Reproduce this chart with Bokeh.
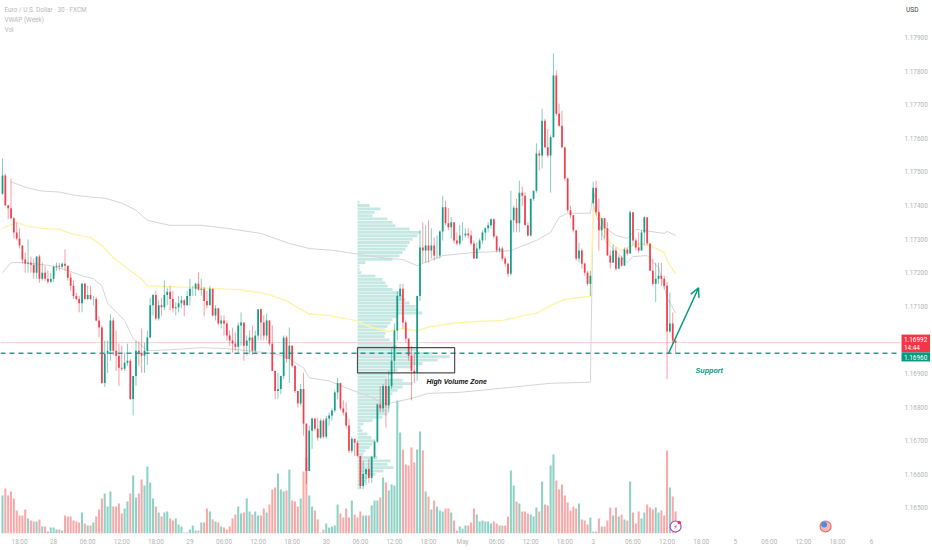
from bokeh.plotting import figure
from bokeh.embed import file_html
from bokeh.resources import INLINE
from bokeh.models import Range1d, FixedTicker, Label, Arrow, OpenHead, BoxAnnotation, ColumnDataSource
from bokeh.core.properties import value

# candles, in points (1e-5)
highs = [117540,117495,117401,117480,117365,117350,117332,117281,117260,117299,
117248,117242,117248,117254,117230,117221,117206,117200,117221,117230,
117230,117230,117269,117221,117200,117176,117140,117131,117170,117170,
117161,117161,117131,117128,117070,117043,116998,116998,117076,117067,
117028,116989,116983,116962,116989,116944,116893,116998,116995,117034,
116992,117028,117125,117137,117146,117118,117125,117176,117155,117161,
117146,117112,117131,117131,117122,117146,117182,117161,117170,117200,
117182,117158,117146,117161,117131,117103,117094,117073,117073,117058,
117028,117037,117022,117052,117082,117052,117013,117028,117043,117028,
117091,117094,117073,117079,117043,117043,116908,116902,116893,117013,
117013,117037,116983,116923,116848,116869,116902,116751,116745,116769,
116766,116769,116766,116766,116775,116784,116796,116850,116887,116872,
116820,116814,116766,116712,116700,116700,116655,116640,116610,116646,
116655,116700,116811,116863,116869,116884,116908,116974,117049,117146,
117167,117167,117058,117004,116983,116959,117131,117326,117350,117341,
117356,117332,117305,117311,117326,117429,117414,117392,117365,117350,
117320,117341,117350,117332,117332,117326,117296,117290,117302,117326,
117335,117350,117362,117362,117311,117278,117278,117248,117230,117444,
117399,117420,117474,117456,117438,117350,117420,117444,117585,117564,
117688,117658,117628,117609,117853,117802,117703,117682,117570,117483,
117399,117371,117326,117290,117272,117230,117206,117206,117471,117474,
117420,117362,117341,117350,117266,117284,117275,117251,117251,117275,
117275,117386,117380,117302,117320,117326,117368,117362,117287,117242,
117230,117230,117230,117191,117173,117140,117082,116998]
lows = [117432,117398,117359,117359,117302,117296,117272,117227,117200,117200,
117200,117182,117182,117170,117176,117176,117167,117170,117173,117206,
117206,117212,117206,117176,117146,117122,117118,117082,117082,117118,
117118,117118,117103,117055,117007,116869,116860,116902,116938,116953,
116908,116863,116908,116908,116923,116821,116775,116863,116923,116902,
116902,116926,117007,117073,117058,117058,117073,117088,117103,117088,
117082,117073,117082,117094,117070,117103,117103,117131,117131,117146,
117131,117070,117094,117103,117070,117058,117043,117034,117013,116998,
116983,116962,116968,116962,116983,116938,116953,116959,116956,116959,
116998,116998,116998,116998,116983,116908,116824,116824,116839,116884,
116932,116872,116917,116842,116799,116805,116715,116571,116610,116676,
116730,116700,116706,116706,116706,116745,116760,116784,116824,116790,
116775,116736,116664,116664,116655,116652,116559,116556,116568,116574,
116574,116646,116694,116784,116784,116739,116784,116854,116902,116998,
117116,117034,116992,116938,116820,116872,116878,117116,117230,117230,
117230,117242,117236,117242,117242,117296,117341,117326,117302,117287,
117281,117281,117296,117305,117302,117281,117242,117251,117266,117287,
117296,117320,117332,117302,117260,117260,117236,117218,117188,117191,
117320,117320,117320,117399,117341,117308,117308,117414,117438,117504,
117510,117570,117543,117438,117603,117667,117634,117570,117474,117380,
117362,117320,117236,117230,117212,117191,117161,117131,117401,117371,
117266,117296,117302,117251,117212,117230,117206,117212,117218,117221,
117251,117257,117281,117266,117260,117266,117281,117281,117206,117161,
117112,117167,117161,117152,116884,117022,116989,116959]
closes = [117489,117401,117392,117362,117320,117302,117281,117239,117227,117230,
117224,117200,117248,117182,117200,117182,117173,117182,117218,117221,
117218,117227,117221,117185,117161,117131,117122,117109,117167,117122,
117134,117122,117122,117058,117037,116872,116959,116968,117058,116968,
116953,116917,116914,116932,116938,116824,116893,116968,116962,116953,
116968,117007,117103,117134,117064,117103,117097,117134,117143,117122,
117094,117097,117109,117118,117103,117131,117152,117152,117167,117149,
117152,117116,117103,117152,117073,117094,117049,117058,117049,117013,
116998,116989,116980,117043,117052,116983,116998,117007,116968,117013,
117091,117052,117013,117058,116989,116908,116848,116854,116893,117007,
116944,116983,116923,116848,116811,116854,116751,116610,116730,116766,
116736,116709,116760,116712,116766,116775,116790,116844,116872,116796,
116784,116745,116670,116706,116694,116655,116565,116601,116616,116589,
116652,116697,116808,116796,116863,116805,116863,116938,117028,117131,
117152,117052,117004,116953,116908,116902,117131,117275,117266,117281,
117266,117281,117251,117251,117323,117395,117347,117335,117350,117296,
117287,117311,117311,117317,117311,117287,117242,117272,117296,117320,
117332,117341,117359,117308,117266,117272,117242,117227,117197,117356,
117393,117347,117438,117429,117341,117311,117420,117444,117555,117549,
117652,117573,117549,117603,117787,117673,117637,117573,117480,117386,
117371,117326,117242,117266,117227,117200,117167,117191,117453,117380,
117326,117362,117332,117251,117230,117266,117212,117245,117221,117269,
117257,117380,117296,117275,117266,117320,117365,117287,117206,117167,
117182,117191,117182,117161,117025,117049,116998,116992]
first_open = 117435
gap_opens = {208: 117407}
volumes = [38,45,38,42,35,23,18,18,24,15,13,12,12,14,7,7,2,6,6,4,
4,3,18,17,17,13,12,11,21,10,8,8,11,17,24,35,40,27,42,27,
27,30,20,25,32,40,58,36,40,54,48,67,51,35,27,21,17,21,22,15,
13,15,9,7,1,1,4,8,3,3,11,11,25,22,14,12,11,7,6,4,
7,15,19,27,20,21,35,22,19,22,18,18,25,21,29,44,46,60,44,42,
43,64,33,32,27,35,62,76,38,27,23,14,1,4,10,6,7,8,29,20,
16,25,16,33,19,16,22,18,18,18,28,33,33,36,56,51,43,49,48,133,
101,84,69,68,86,71,84,102,83,42,37,24,33,27,23,22,25,25,21,13,
3,7,5,8,8,11,25,19,12,13,12,12,10,12,10,8,8,8,17,63,
48,32,30,22,22,20,19,17,26,22,52,29,28,68,79,53,44,49,38,31,
23,27,25,30,14,13,9,16,2,2,15,7,7,13,26,18,26,17,19,14,
13,52,21,10,22,15,21,29,26,24,26,21,23,18,83,46,37,22]

# VWAP bands
upper_bars = [3,9,14,20,25,31,36,42,47,51,54,59,70,79,91,101,108,117,126,136,141,146,155,166,174,179,188,193,196,199,207,208,210,212,216,220,223,228,233,234,237]
upper_vals = [117470,117452,117443,117440,117431,117425,117422,117407,117386,117356,117350,117341,117341,117332,117317,117287,117272,117266,117254,117242,117239,117221,117251,117260,117263,117266,117296,117320,117365,117377,117377,117444,117380,117335,117311,117302,117329,117323,117317,117323,117311]
vwap_bars = [0,5,9,14,20,25,31,35,39,45,49,51,70,84,93,100,108,115,124,130,136,140,146,151,158,167,176,184,188,193,198,207,208,210,212,214,218,220,224,228,233,234,237]
vwap_vals = [117332,117350,117338,117332,117329,117314,117305,117281,117245,117206,117182,117161,117155,117149,117137,117116,117077,117073,117058,117037,117025,117034,117028,117040,117049,117055,117058,117073,117079,117103,117121,117130,117385,117380,117326,117287,117266,117275,117287,117281,117260,117236,117197]
lower_bars = [0,3,8,17,23,28,32,35,37,43,46,51,60,70,79,86,93,99,102,106,108,115,122,130,134,136,144,150,161,179,193,207,208,212,220,222,227,231,234,237]
lower_vals = [117200,117230,117230,117221,117206,117191,117182,117161,117109,117058,117004,116968,116971,116977,116974,116968,116962,116953,116938,116917,116887,116878,116854,116829,116811,116811,116826,116841,116844,116859,116871,116874,117401,117296,117230,117248,117251,117215,117125,117080]

# session volume profile: one row per 0.0001, from 1.17410 downwards
profile_top = 117410
profile_step = 10
profile_start_bar = 125
profile_vols = [2,12,23,17,15,30,35,38,52,63,60,55,52,50,48,45,42,35,8,2,2,4,18,25,28,30,35,42,45,48,52,58,60,65,40,35,33,30,27,28,27,32,35,40,60,75,92,80,65,55,40,35,30,45,55,45,40,35,33,33,32,32,30,30,25,15,6,3,5,10,14,18,15,12,8,6,20,33,30,36,26,18,10,8,5,4]

tick_bars = [6,18,30,42,54,66,78,90,102,114,126,138,150,162,174,186,198,208,222,234,246,258,270,282,294,306]
tick_labels = ["18:00","28","06:00","12:00","18:00","29","06:00","12:00","18:00","30","06:00","12:00","18:00","May","06:00","12:00","18:00","3","06:00","12:00","18:00","5","06:00","12:00","18:00","6"]
price_ticks = [1.165,1.166,1.167,1.168,1.169,1.171,1.172,1.173,1.174,1.175,1.176,1.177,1.178,1.179]

last_price = 1.16992
support = 1.16960
UP, DOWN = "#089981", "#f23645"
VOL_UP, VOL_DOWN = "#8ed1c5", "#f9a9a9"

opens = [first_open] + closes[:-1]
for k, v in gap_opens.items():
    opens[k] = v
n = len(closes)
bars = list(range(n))
o = [v / 1e5 for v in opens]
c = [v / 1e5 for v in closes]
h = [max(a, b, d) / 1e5 for a, b, d in zip(highs, opens, closes)]
l = [min(a, b, d) / 1e5 for a, b, d in zip(lows, opens, closes)]
rising = [a >= b for a, b in zip(closes, opens)]
cols = [UP if r else DOWN for r in rising]
vcols = [VOL_UP if r else VOL_DOWN for r in rising]

PX = 2.84
x_start = -2 / PX
x_axis_pos = x_start + 900 / PX

def kx(px):
    return (px - 2) / PX

p = figure(width=932, height=550, output_backend="svg", toolbar_location=None,
           x_range=Range1d(x_start, x_start + 932 / PX), y_range=Range1d(1.16424, 1.18010),
           y_axis_location="right", min_border_left=0, min_border_top=0,
           min_border_right=0, min_border_bottom=17, background_fill_color="white",
           outline_line_color=None, margin=(-8, -8, -8, -8), styles={"margin": "0"})
p.grid.visible = False
p.extra_y_ranges = {"vol": Range1d(0, 533)}

ax = p.xaxis[0]
ax.ticker = FixedTicker(ticks=tick_bars)
ax.major_label_overrides = {b: t for b, t in zip(tick_bars, tick_labels)}
ay = p.yaxis[0]
ay.ticker = FixedTicker(ticks=price_ticks)
ay.major_label_overrides = {v: f"{v:.5f}" for v in price_ticks}
ay.fixed_location = x_axis_pos
for a in (ax, ay):
    a.axis_line_color = None
    a.major_tick_line_color = None
    a.minor_tick_line_color = None
    a.major_tick_out = 0
    a.major_tick_in = 0
    a.minor_tick_out = 0
    a.major_label_text_color = "#b4b4b4"
    a.major_label_text_font = "Roboto"
    a.major_label_text_font_size = "6.4px"
ax.major_label_standoff = 4
ay.major_label_standoff = 4

# profile
rows = [(profile_top - i * profile_step) / 1e5 for i in range(len(profile_vols))]
p.hbar(y=rows, left=profile_start_bar, right=[profile_start_bar + w / PX for w in profile_vols],
       height=0.000085, fill_color="#c6e8e3", line_color=None)

# VWAP
p.line(upper_bars, [v / 1e5 for v in upper_vals], line_color="#d6d5d5", line_width=1.0)
p.line(lower_bars, [v / 1e5 for v in lower_vals], line_color="#d6d5d5", line_width=1.0)
p.line(vwap_bars, [v / 1e5 for v in vwap_vals], line_color="#fcf5a8", line_width=1.4)

# levels
p.line([x_start, x_axis_pos], [last_price] * 2, line_color="#f7c9ce", line_width=0.9)

# volume
p.vbar(x=bars, top=volumes, bottom=0, width=0.72, fill_color=vcols, line_color=None, y_range_name="vol")

# candles
src = ColumnDataSource(dict(x=bars, o=o, c=c, h=h, l=l, col=cols))
p.segment(x0="x", x1="x", y0="h", y1="l", line_color="col", line_width=0.9, line_alpha=0.55, source=src)
p.vbar(x="x", top="o", bottom="c", width=0.62, fill_color="col", fill_alpha=0.92, line_color=None, source=src)

p.line([x_start, x_axis_pos], [support] * 2, line_color=UP, line_width=1.5, line_dash="5 4", line_alpha=0.9)

# zone box
p.add_layout(BoxAnnotation(left=125, right=159.2, bottom=1.16902, top=1.16977,
                           fill_alpha=0, line_color="#333333", line_width=1.2, line_alpha=0.85))
p.text([149.3], [1.16876], text=["High Volume Zone"], text_font=value("Liberation Sans"),
       text_font_style="bold italic", text_font_size="6.9px", text_color="#111111", text_baseline="middle")
p.text([244.0], [1.16908], text=["Support"], text_font=value("Liberation Sans"),
       text_font_style="bold italic", text_font_size="7.2px", text_color=UP, text_baseline="middle")
p.add_layout(Arrow(x_start=234.5, y_start=support, x_end=245.1, y_end=1.17155, line_color=UP, line_width=1.4,
                   end=OpenHead(size=9, line_color=UP, line_width=1.4)))

# legend texts
for txt, price in (("Euro / U.S. Dollar · 30 · FXCM", 1.17983), ("VWAP (Week)", 1.17953), ("Vol", 1.17923)):
    p.add_layout(Label(x=0.7, y=price, text=txt, text_font="Roboto", text_font_size="6.4px",
                       text_color="#b8b8b8", text_baseline="middle"))

# currency and price tags
p.add_layout(Label(x=kx(905.5), y=1.17983, text="USD", text_font="Roboto", text_font_size="6.6px",
                   text_color="#444444", text_baseline="middle"))
p.add_layout(BoxAnnotation(left=kx(901), right=kx(929.5), top=1.17016, bottom=1.16963, fill_color=DOWN, fill_alpha=1, line_color=None))
p.add_layout(BoxAnnotation(left=kx(901), right=kx(929.5), top=1.16963, bottom=1.16936, fill_color=UP, fill_alpha=1, line_color=None))
for txt, price in (("1.16992", 1.17001), ("14:44", 1.16976), ("1.16960", 1.16949)):
    p.add_layout(Label(x=kx(903.5), y=price, text=txt, text_font="Roboto", text_font_size="6.4px",
                       text_color="white", text_baseline="middle"))

# event markers
p.scatter([237], [7], size=11, fill_color="white", line_color="#a24bd0", line_width=1.2, y_range_name="vol")
p.text([237], [7], text=["⚡"], text_font=value("DejaVu Sans"), text_font_size="6px", text_color="#9c27b0",
       text_align="center", text_baseline="middle", y_range_name="vol")
p.scatter([238.3], [11], size=3.5, fill_color=DOWN, line_color=None, y_range_name="vol")
p.scatter([289.8], [7], size=11, fill_color="#f8b6b6", line_color="#ef6a6a", line_width=1.2, y_range_name="vol")
p.scatter([289.3], [9], marker="circle", size=6, fill_color="#4a90e2", line_color=None, y_range_name="vol")

open("out.html", "w").write(file_html(p, INLINE))
